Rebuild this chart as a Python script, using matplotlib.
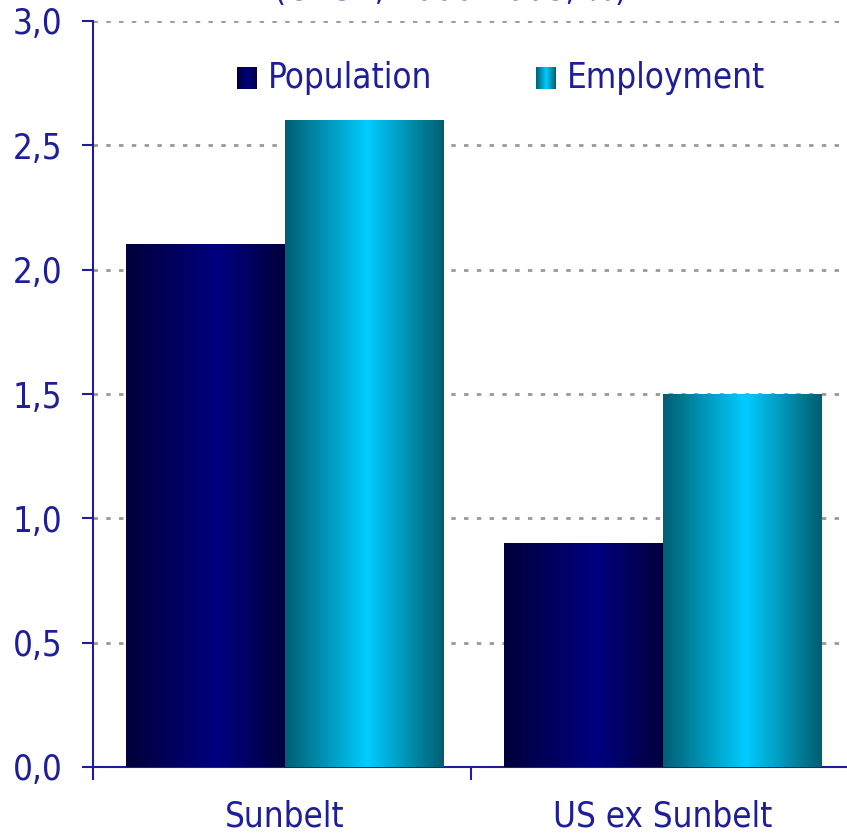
import numpy as np
import matplotlib.pyplot as plt
from matplotlib.colors import LinearSegmentedColormap

# Data
categories = ['Sunbelt', 'US ex Sunbelt']
population = [2.1, 0.9]
employment = [2.6, 1.5]
series_names = ['Population', 'Employment']
y_ticks = [0.0, 0.5, 1.0, 1.5, 2.0, 2.5, 3.0]

TEXT_COL = '#1E1E9A'
FONT = dict(family='DejaVu Sans', stretch='condensed')
FS = 25

pop_cmap = LinearSegmentedColormap.from_list('pop', [(0, '#00003A'), (0.58, '#00007F'), (1, '#00003E')])
emp_cmap = LinearSegmentedColormap.from_list('emp', [(0, '#005F72'), (0.52, '#00CCFF'), (1, '#005E70')])
grad = np.linspace(0, 1, 256).reshape(1, -1)

fig = plt.figure(figsize=(8.47, 8.36), dpi=100)
ax = fig.add_axes([93 / 847, 1 - 767 / 836, 756 / 847, (767 - 21) / 836])

# group centres sit a touch right of the category middles in the original
x = np.arange(len(categories)) + 0.508
w = 0.42
for xi, p, e in zip(x, population, employment):
    ax.imshow(grad, cmap=pop_cmap, extent=[xi - w, xi, 0, p], aspect='auto', zorder=3)
    ax.imshow(grad, cmap=emp_cmap, extent=[xi, xi + w, 0, e], aspect='auto', zorder=3)

ax.set_xlim(0, 2)
ax.set_ylim(0, 3.0)

ax.set_yticks(y_ticks)
ax.set_yticklabels([f'{v:.1f}'.replace('.', ',') for v in y_ticks], color=TEXT_COL, fontsize=FS, **FONT)
ax.yaxis.grid(True, color='#999999', linestyle=(0, (1.6, 3.0)), linewidth=2, zorder=0)
ax.set_axisbelow(True)
ax.tick_params(axis='y', length=8, width=1.5, color=TEXT_COL, pad=14)

ax.set_xticks([0, 1, 2])
ax.set_xticklabels([])
ax.tick_params(axis='x', length=9, width=1.5, color=TEXT_COL)
for xi, c in zip(x, categories):
    ax.text(xi, -0.2, c, ha='center', va='center', color=TEXT_COL, fontsize=FS, **FONT)

for s in ['top', 'right']:
    ax.spines[s].set_visible(False)
for s in ['left', 'bottom']:
    ax.spines[s].set_color(TEXT_COL)
    ax.spines[s].set_linewidth(1.5)

# legend drawn by hand so the swatches keep their gradients
for sx, name, cmap in [(237, series_names[0], pop_cmap), (536, series_names[1], emp_cmap)]:
    sw = fig.add_axes([sx / 847, 1 - 89 / 836, 20 / 847, 22 / 836])
    sw.imshow(grad, cmap=cmap, aspect='auto')
    sw.axis('off')
    fig.text((sx + 31) / 847, 1 - 78 / 836, name, ha='left', va='center',
             color=TEXT_COL, fontsize=FS, **FONT)

# title sits mostly above the canvas, as in the cropped original
fig.text(451 / 847, 1 - 7 / 836, '(CAGR, 2000-2008, %)', ha='center', va='bottom',
         color=TEXT_COL, fontsize=FS, **FONT)

fig.savefig('out.png', dpi=100)
